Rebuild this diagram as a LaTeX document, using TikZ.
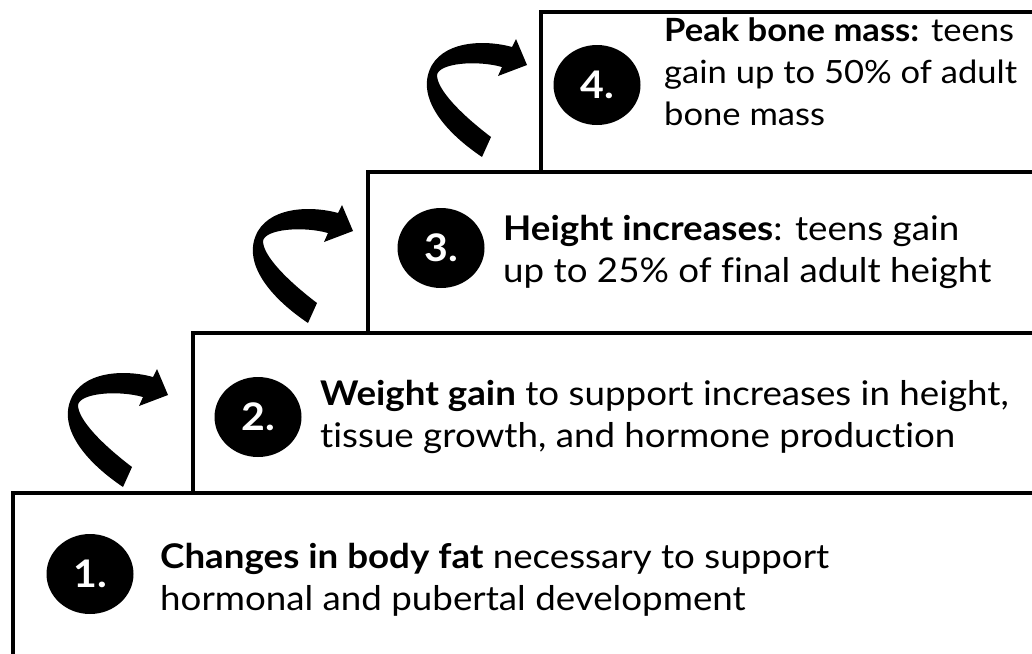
\documentclass[tikz,border=0pt]{standalone}
\usepackage{fontspec}
\setmainfont[FakeStretch=1.08, Ligatures=NoCommon]{Lato}
\usetikzlibrary{shapes.geometric}

\begin{document}
\begin{tikzpicture}[
  x=1pt, y=-1pt,
  stepbox/.style={draw, line width=4.5pt},
  numdot/.style={ellipse, fill=black, text=white, inner sep=0pt,
    minimum width=87pt, minimum height=80pt,
    font=\fontsize{38}{40}\selectfont\bfseries},
  steptext/.style={anchor=base west, align=left, inner sep=0pt,
    font=\fontsize{34}{42}\selectfont},
  swoosh/.pic={
    \fill (-36,72) .. controls (-65,50) and (-90,25) .. (-90,10)
      .. controls (-88,-2) and (-50,-5) .. (-25,2)
      -- (-29,11) -- (0,0) -- (-11,-26) -- (-15,-18)
      .. controls (-40,-25) and (-80,-25) .. (-95,0)
      .. controls (-112,30) and (-85,65) .. (-45,92) -- cycle;
  }
]
\useasboundingbox (0,0) rectangle (1032,653);
\clip (0,0) rectangle (1032,653);

% steps: number / left edge / top edge / top edge of the step below
\foreach \n/\x/\y/\b in {1/13/493/700, 2/193/333/493, 3/368/172/333, 4/541/12/172} {
  \draw[stepbox] (\x,\b) -- (\x,\y) -- (1100,\y);
  \coordinate (step\n) at (\x,\y);
}

% numbered dots
\node[numdot] (num1) at (90,574) {1.};
\node[numdot] (num2) at (258,417) {2.};
\node[numdot] (num3) at (441,248) {3.};
\node[numdot] (num4) at (597,85) {4.};

% texts (anchored at the baseline of the last line)
\node[steptext] (text1) at (160,610) {\textbf{Changes in body fat} necessary to support\\hormonal and pubertal development};
\node[steptext] (text2) at (320,447) {\textbf{Weight gain} to support increases in height,\\tissue growth, and hormone production};
\node[steptext] (text3) at (503,282) {\textbf{Height increases}: teens gain\\up to 25\% of final adult height};
\node[steptext, font=\fontsize{32}{42}\selectfont] (text4) at (664,125) {\textbf{Peak bone mass:} teens\\gain up to 50\% of adult\\bone mass};

% curved arrows up to the next step
\pic at ([shift={(-25,62)}]step2) {swoosh};
\pic at ([shift={(-15,59)}]step3) {swoosh};
\pic at ([shift={(-14,53)}]step4) {swoosh};
\end{tikzpicture}
\end{document}
